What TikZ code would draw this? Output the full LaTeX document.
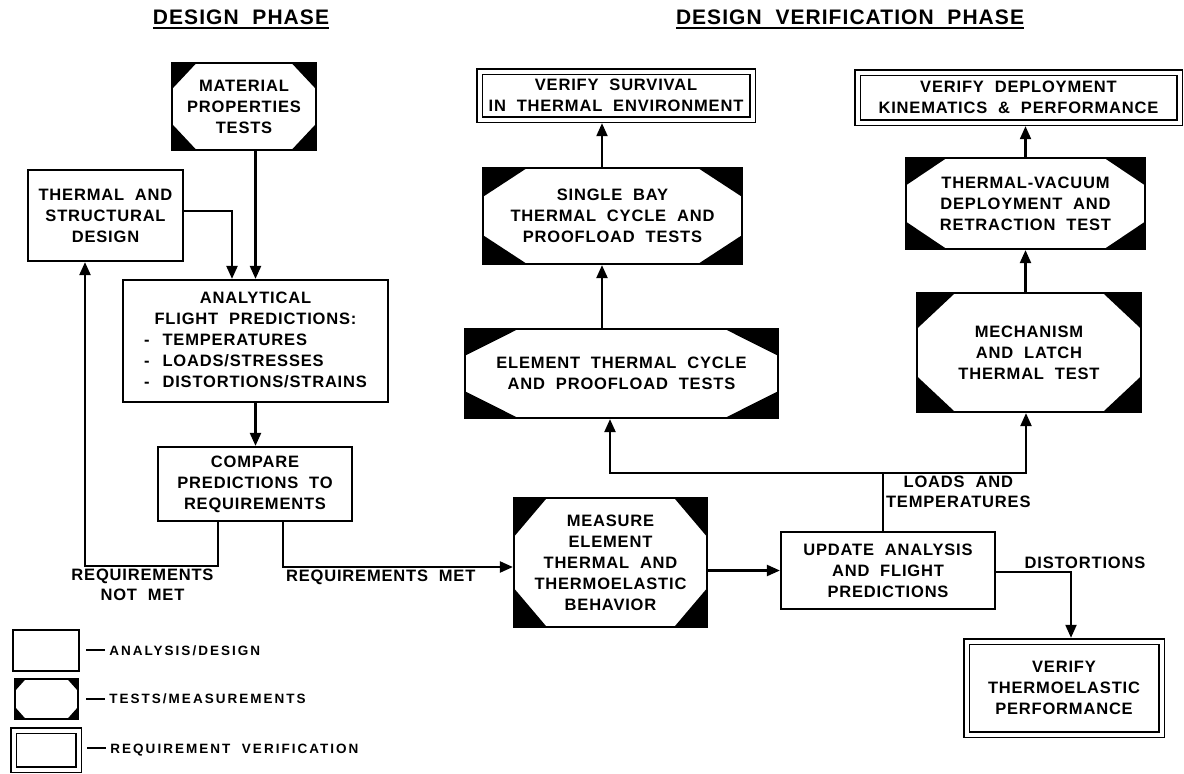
\documentclass[tikz,border=0pt]{standalone}
\usepackage{fontspec}
\setmainfont{Liberation Sans}[LetterSpace=5,WordSpace=2]
\usetikzlibrary{arrows.meta,calc,positioning}
\newcommand\ulbold[1]{\setbox0\hbox{#1}\rlap{\rule[-4.5pt]{\wd0}{1.8pt}}\box0}
\newcommand\legdash{\rule[4pt]{19pt}{2pt}\hspace{4pt}}
\tikzset{every picture/.style={/utils/exec={\bfseries}}}
\tikzset{boxsize/.style 2 args={minimum width=#1pt,minimum height=#2pt}}
\tikzset{anabox/.style={draw,line width=2.2pt,fill=white,align=center,inner sep=2pt,font=\fontsize{16.5}{21}\selectfont\bfseries}}
\tikzset{testbox/.style={anabox,path picture={
    \coordinate (q1) at (path picture bounding box.north west);
    \coordinate (q2) at (path picture bounding box.north east);
    \coordinate (q3) at (path picture bounding box.south east);
    \coordinate (q4) at (path picture bounding box.south west);
    \fill[black] (q1) -- ($(q1)!.17!(q2)$) -- ($(q1)!.3!(q4)$) -- cycle;
    \fill[black] (q2) -- ($(q2)!.17!(q1)$) -- ($(q2)!.3!(q3)$) -- cycle;
    \fill[black] (q3) -- ($(q3)!.17!(q4)$) -- ($(q3)!.3!(q2)$) -- cycle;
    \fill[black] (q4) -- ($(q4)!.17!(q3)$) -- ($(q4)!.3!(q1)$) -- cycle;}}}
\tikzset{verbox/.style={draw,line width=1.7pt,double=white,double distance=4pt,outer sep=3.7pt,align=center,inner sep=2pt,font=\fontsize{16.5}{21}\selectfont\bfseries}}
\tikzset{lbl/.style={align=center,inner sep=2pt,font=\fontsize{16.5}{20}\selectfont\bfseries}}
\tikzset{legtxt/.style={inner sep=0pt,font=\fontsize{13.5}{16}\selectfont\bfseries\addfontfeature{LetterSpace=15}}}
\tikzset{title/.style={inner sep=0pt,font=\fontsize{21}{24}\selectfont\bfseries}}
\tikzset{arr/.style={line width=2.2pt,-{Triangle[length=13pt,width=11pt]}}}

\begin{document}
\begin{tikzpicture}[x=1pt,y=-1pt]
    \useasboundingbox (0,0) rectangle (1184,774);
    \node [title] (dp) at (241,19) {\ulbold{DESIGN PHASE}};
    \node [title] (dvp) at (850,19) {\ulbold{DESIGN VERIFICATION PHASE}};

    % design phase
    \node [testbox,boxsize={144}{87}] (mat) at (244,106.5) {MATERIAL\\PROPERTIES\\TESTS};
    \node [anabox,boxsize={155}{91}] (tsd) at (105.5,215.5) {THERMAL AND\\STRUCTURAL\\DESIGN};
    \node [anabox,boxsize={265}{122}] (ana) at (255.5,341) {\begin{tabular}{@{}l@{\hspace{13pt}}l@{}}
        \multicolumn{2}{c}{ANALYTICAL}\\ \multicolumn{2}{c}{FLIGHT PREDICTIONS:}\\
        -&TEMPERATURES\\ -&LOADS/STRESSES\\ -&DISTORTIONS/STRAINS\end{tabular}};
    \node [anabox,boxsize={194}{74}] (cmp) at (255,484) {COMPARE\\PREDICTIONS TO\\REQUIREMENTS};

    % verification phase
    \node [testbox,boxsize={193}{129}] (meas) at (610.5,562.5) {MEASURE\\ELEMENT\\THERMAL AND\\THERMOELASTIC\\BEHAVIOR};
    \node [anabox,boxsize={214}{77}] (upd) at (888,570.5) {UPDATE ANALYSIS\\AND FLIGHT\\PREDICTIONS};
    \node [testbox,boxsize={313}{89}] (elem) at (621.5,373.5) {ELEMENT THERMAL CYCLE\\AND PROOFLOAD TESTS};
    \node [testbox,boxsize={259}{96}] (bay) at (612.5,216) {SINGLE BAY\\THERMAL CYCLE AND\\PROOFLOAD TESTS};
    \node [verbox,boxsize={273}{48}] (surv) at (616,95.5) {VERIFY SURVIVAL\\IN THERMAL ENVIRONMENT};
    \node [verbox,boxsize={322}{50}] (dply) at (1018.5,97.5) {VERIFY DEPLOYMENT\\KINEMATICS \& PERFORMANCE};
    \node [testbox,boxsize={239}{91}] (tvac) at (1025.5,203.5) {THERMAL-VACUUM\\DEPLOYMENT AND\\RETRACTION TEST};
    \node [testbox,boxsize={224}{119}] (mech) at (1029,352.5) {MECHANISM\\AND LATCH\\THERMAL TEST};
    \node [verbox,boxsize={195}{93}] (tep) at (1064,688) {VERIFY\\THERMOELASTIC\\PERFORMANCE};

    \draw [arr] (mat.south -| ana.north) -- (ana.north);
    \draw [arr] ([yshift=4.5pt]tsd.east) -| ([xshift=-23.5pt]ana.north);
    \draw [arr] (ana.south) -- (ana.south |- cmp.north);
    \draw [arr] ([xshift=-37pt]cmp.south) -- ++(0,44) -| node [lbl,pos=.25,below,xshift=-9pt] {REQUIREMENTS\\NOT MET} ([xshift=-20.5pt]tsd.south);
    \draw [arr] ([xshift=28pt]cmp.south) |- node [lbl,pos=.5,below right] {REQUIREMENTS MET} ([yshift=-4.5pt]meas.west);
    \draw [arr] (upd.west -| meas.east) -- (upd.west);
    \coordinate (split) at ([shift={(-5pt,58pt)}]upd.north);
    \draw [line width=2.2pt] ([xshift=-5pt]upd.north) -- (split) node [lbl,below right] {LOADS AND\\TEMPERATURES};
    \draw [arr] (split) -| ([xshift=-11.5pt]elem.south);
    \draw [arr] (split) -| ([xshift=-3pt]mech.south);
    \draw [arr] ([yshift=-1.5pt]upd.east) -| node [lbl,pos=.5,above,xshift=14pt] {DISTORTIONS} ([xshift=7pt]tep.north);
    \draw [arr] ([xshift=-19.5pt]elem.north) -- ([xshift=-19.5pt]elem.north |- bay.south);
    \draw [arr] ([xshift=-10.5pt]bay.north) -- ([xshift=-10.5pt]bay.north |- surv.south);
    \draw [arr] (mech.north -| tvac.north) -- (tvac.south);
    \draw [arr] (tvac.north) -- (tvac.north |- dply.south);

    % legend
    \node [anabox,boxsize={66}{41}] (lega) at (46,650.5) {};
    \node [testbox,boxsize={63}{40}] (legt) at (46.5,699) {};
    \node [verbox,boxsize={65}{39}] (legv) at (46,750) {};
    \node [legtxt,right=6pt of lega] {\legdash ANALYSIS/DESIGN};
    \node [legtxt,right=7pt of legt] {\legdash TESTS/MEASUREMENTS};
    \node [legtxt,right=5pt of legv] {\legdash REQUIREMENT VERIFICATION};
\end{tikzpicture}
\end{document}
